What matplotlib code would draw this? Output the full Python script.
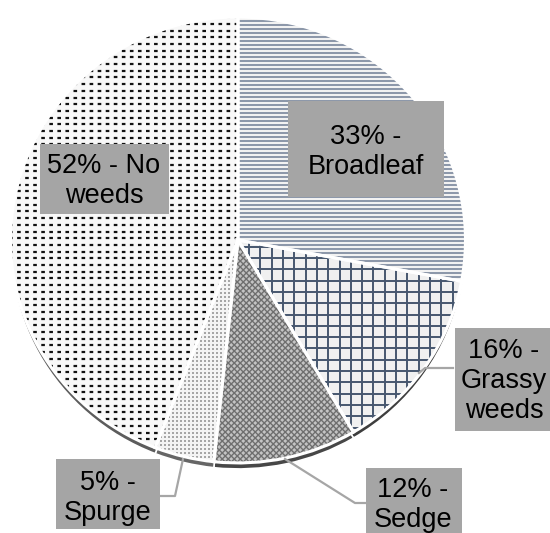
import numpy as np
import matplotlib
matplotlib.use("Agg")
import matplotlib.pyplot as plt
from matplotlib.collections import LineCollection
from matplotlib.patches import Rectangle

plt.rcParams["font.family"] = ["Liberation Sans", "DejaVu Sans"]
plt.rcParams["lines.scale_dashes"] = False

# Share of fields by dominant weed type
categories = ["Broadleaf", "Grassy weeds", "Sedge", "Spurge", "No weeds"]
values = [33, 16, 12, 5, 52]
labels = ["33% -\nBroadleaf", "16% -\nGrassy\nweeds", "12% -\nSedge",
          "5% -\nSpurge", "52% - No\nweeds"]

W, H = 550, 533
S = 0.98                      # vertical squash of the tilted pie
fig = plt.figure(figsize=(W / 100, H / 100), dpi=100)
ax = fig.add_axes([0, 0, 1, 1])


def pt(x, y):
    """Pixel position (origin top-left) to data coordinates."""
    return x, (H - y) / S


CX, CY = pt(238, 240)
R = 227.5
RIM = 6 / S

top_colors = ["#f2f2f2", "#f0f0f0", "#c4c4c4", "#f4f4f4", "#f8f8f8"]
rim_colors = ["#555555", "#3e3e3e", "#474747", "#666666", "#5c5c5c"]

# side rim of the tilted pie
rim, _ = ax.pie(values, startangle=90, counterclock=False, radius=R,
                center=(CX, CY - RIM), colors=rim_colors,
                wedgeprops=dict(edgecolor="white", linewidth=1.2),
                frame=True)
for w in rim:
    w.set_zorder(1)

# top face
faces, _ = ax.pie(values, startangle=90, counterclock=False, radius=R,
                  center=(CX, CY), colors=top_colors,
                  wedgeprops=dict(linewidth=0), frame=True)
for w in faces:
    w.set_zorder(2)

x0, x1 = CX - R - 10, CX + R + 10
y0, y1 = CY - R - 10, CY + R + 10


def add_lines(segs, wedge, color, lw, ls="solid"):
    lc = LineCollection(segs, colors=color, linewidths=lw, linestyles=ls,
                        zorder=3)
    ax.add_collection(lc)
    lc.set_clip_path(wedge)


# Broadleaf: fine horizontal lines
ys = np.arange(y0, y1, 4 / S)
add_lines([[(x0, y), (x1, y)] for y in ys], faces[0], "#6f7d95", 1.1)

# Grassy weeds: square grid
step = 11.3
ys = np.arange(y0, y1, step / S)
xs = np.arange(x0, x1, step)
segs = [[(x0, y), (x1, y)] for y in ys] + [[(x, y0), (x, y1)] for x in xs]
add_lines(segs, faces[1], "#46566e", 1.4)

# Sedge: diagonal lattice
d = 6.0
offs = np.arange(-2 * (x1 - x0), 2 * (x1 - x0), d)
segs = [[(x0 + o, y0), (x0 + o + (y1 - y0) * S, y1)] for o in offs]
segs += [[(x0 + o, y1), (x0 + o + (y1 - y0) * S, y0)] for o in offs]
add_lines(segs, faces[2], "#6e6e6e", 1.0)

# Spurge: sparse dots
gx, gy = np.meshgrid(np.arange(x0, x1, 4.0), np.arange(y0, y1, 4.0 / S))
dots = ax.scatter(gx.ravel(), gy.ravel(), s=0.8, marker="s", c="#a6a6a6",
                  linewidths=0, zorder=3)
dots.set_clip_path(faces[3])

# No weeds: rows of short dashes
ys = np.arange(y0, y1, 6.7 / S)
add_lines([[(x0, y), (x1, y)] for y in ys], faces[4], "#111111", 1.6,
          ls=[(0, (2.6, 3.2))])

# white borders between slices
edges, _ = ax.pie(values, startangle=90, counterclock=False, radius=R,
                  center=(CX, CY),
                  wedgeprops=dict(fill=False, edgecolor="white", linewidth=2.2),
                  frame=True)
for w in edges:
    w.set_zorder(4)

# leader lines
leaders = [
    [(453, 368), (425, 368), (419, 373)],
    [(285, 459), (355, 503), (366, 503)],
    [(160, 496), (175, 496), (183, 459)],
]
for seg in leaders:
    px, py = zip(*[pt(x, y) for x, y in seg])
    ax.plot(px, py, color="#a6a6a6", lw=1.6, zorder=5, clip_on=False)

# label boxes: (left, top, right, bottom) and text centre
boxes = {
    "Broadleaf": ((288, 101, 444, 197), (366, 152)),
    "Grassy weeds": ((455, 328, 552, 431), (504, 381)),
    "Sedge": ((366, 468, 462, 540), (413, 505)),
    "Spurge": ((56, 459, 160, 529), (108, 498)),
    "No weeds": ((40, 144, 169, 214), (104, 181)),
}
for cat, lab in zip(categories, labels):
    (l, t, r, b), (tx, ty) = boxes[cat]
    lx, ly = pt(l, b)
    ax.add_patch(Rectangle((lx, ly), r - l, (b - t) / S, facecolor="#a5a5a5",
                           edgecolor="none", zorder=6, clip_on=False))
    ax.text(*pt(tx, ty), lab, ha="center", va="center", fontsize=19.5,
            color="black", linespacing=1.18, zorder=7)

ax.set_xlim(0, W)
ax.set_ylim(0, H / S)
ax.set_aspect("auto")
ax.axis("off")

fig.savefig("out.png", dpi=100, facecolor="white")
